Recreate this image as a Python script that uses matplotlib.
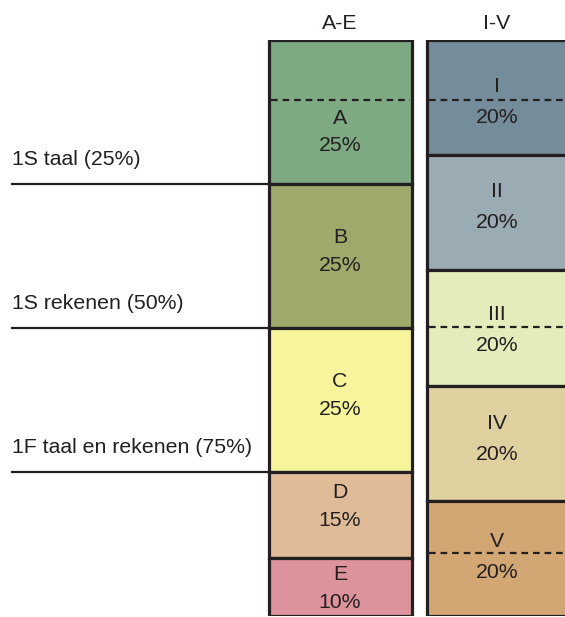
import matplotlib.pyplot as plt

# data
left_labels = ["A", "B", "C", "D", "E"]
left_pct = [25, 25, 25, 15, 10]
left_colors = ["#7eaa83", "#9fa96c", "#f7f59b", "#dfbc97", "#dd939b"]

right_labels = ["I", "II", "III", "IV", "V"]
right_pct = [20, 20, 20, 20, 20]
right_colors = ["#758c9b", "#9aabb3", "#e4ecbb", "#dfd0a0", "#d3a774"]

levels = [25, 50, 75]
level_labels = ["1S taal (25%)", "1S rekenen (50%)", "1F taal en rekenen (75%)"]

dash_left = [10.4]
dash_right = [10.4, 49.8, 89.1]

# label nudges (layout only)
left_shift = [3.5, -0.8, -0.8, -1.5, 0.2]
right_shift = [0.8, -1.0, 0.3, -0.8, -0.2]

plt.rcParams['font.family'] = ['Liberation Sans', 'DejaVu Sans']
fs = 15.3

W, H = 565, 617
fig = plt.figure(figsize=(W / 100, H / 100), dpi=100)
ax = fig.add_axes([0, 1 / H, 1, 576 / H])
ax.set_xlim(0, W)
ax.set_ylim(100, 0)
ax.axis('off')

edge = "#231f20"


def column(x0, width, xc, pcts, colors, labels, shifts, dashes, gap):
    bottoms = [sum(pcts[:i]) for i in range(len(pcts))]
    ax.bar([x0] * len(pcts), pcts, bottom=bottoms, width=width, align='edge',
           color=colors, edgecolor=edge, linewidth=2.3, zorder=2)
    for b, p, lab, s in zip(bottoms, pcts, labels, shifts):
        c = b + p / 2 + s
        ax.text(xc, c - gap / 2, lab, ha='center', va='center',
                fontsize=fs, color=edge, zorder=4)
        ax.text(xc, c + gap / 2, f"{p}%", ha='center', va='center',
                fontsize=fs, color=edge, zorder=4)
    for d in dashes:
        ax.plot([x0 + 2, x0 + width - 2], [d, d], color=edge, lw=1.6,
                ls=(0, (3, 2.2)), zorder=3)


column(269, 143, 340, left_pct, left_colors, left_labels, left_shift, dash_left, 4.8)
column(427, 145, 497, right_pct, right_colors, right_labels, right_shift, dash_right, 5.4)

for lv, lab in zip(levels, level_labels):
    ax.plot([12, 269], [lv, lv], color=edge, lw=1.6, zorder=1)
    ax.text(12, lv - 4.2, lab, ha='left', va='center', fontsize=fs, color=edge)

ax.text(340, -2.8, "A-E", ha='center', va='center', fontsize=fs, color=edge)
ax.text(497, -2.8, "I-V", ha='center', va='center', fontsize=fs, color=edge)

fig.savefig("out.png", dpi=100)
